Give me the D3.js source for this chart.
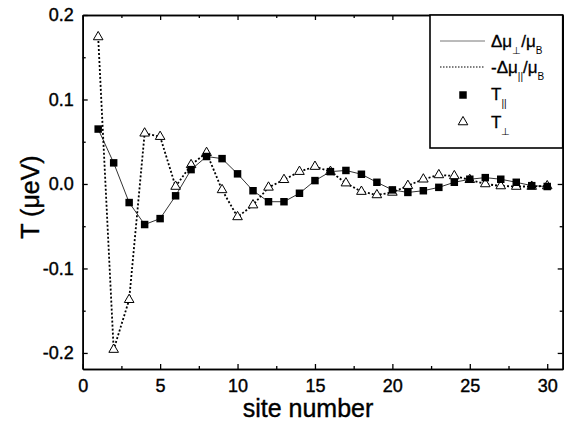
<!DOCTYPE html>
<html>
<head>
<meta charset="utf-8">
<script src="https://cdn.jsdelivr.net/npm/d3@7"></script>
<style>
  body { margin: 0; background: #fff; }
  svg text { font-family: "Liberation Sans", Arial, sans-serif; fill: #000; }
</style>
</head>
<body>
<div id="chart"></div>
<script>
// site index along the chain
var sites = [1, 2, 3, 4, 5, 6, 7, 8, 9, 10, 11, 12, 13, 14, 15,
             16, 17, 18, 19, 20, 21, 22, 23, 24, 25, 26, 27, 28, 29, 30];

// T parallel (filled squares, solid line)
var tPar = [0.065, 0.025, -0.022, -0.048, -0.041, -0.014, 0.017, 0.0325, 0.030, 0.012,
            -0.008, -0.021, -0.021, -0.011, 0.004, 0.0146, 0.016, 0.0115, 0.002, -0.007,
            -0.010, -0.008, -0.004, 0.002, 0.0056, 0.0075, 0.0056, 0.002, -0.002, -0.003];

// T perpendicular (open triangles, dotted line)
var tPerp = [0.174, -0.196, -0.137, 0.060, 0.056, -0.003, 0.0226, 0.037, -0.007, -0.039,
             -0.025, -0.004, 0.005, 0.0146, 0.0206, 0.0146, 0.001, -0.009, -0.013, -0.010,
             -0.002, 0.0056, 0.0107, 0.0095, 0.005, 0.0, -0.0024, -0.003, -0.003, -0.0024];

var xTicks = [0, 5, 10, 15, 20, 25, 30];
var xMinor = [2.5, 7.5, 12.5, 17.5, 22.5, 27.5];
var yTicks = [-0.2, -0.1, 0.0, 0.1, 0.2];
var yMinor = [-0.15, -0.05, 0.05, 0.15];

var width = 571, height = 424;
var margin = {left: 82.7, right: 562.7, top: 15, bottom: 369};

var svg = d3.select('#chart').append('svg')
    .attr('width', width)
    .attr('height', height);

var x = d3.scaleLinear().domain([0, 31]).range([margin.left, margin.right]);
var y = d3.scaleLinear().domain([-0.219, 0.2]).range([margin.bottom, margin.top]);

// plain hyphen for the minus sign, like the original
var fmtY = function (d) { return d3.format('.1f')(d).replace('\u2212', '-'); };

// bottom axis, ticks pointing in
svg.append('g')
    .attr('transform', 'translate(0,' + margin.bottom + ')')
    .call(d3.axisBottom(x).tickValues(xTicks).tickSizeInner(-5).tickSizeOuter(0).tickPadding(10));
svg.append('g')
    .attr('transform', 'translate(0,' + margin.bottom + ')')
    .call(d3.axisBottom(x).tickValues(xMinor).tickFormat('').tickSizeInner(-3).tickSizeOuter(0));

// top axis
svg.append('g')
    .attr('transform', 'translate(0,' + margin.top + ')')
    .call(d3.axisTop(x).tickValues(xTicks).tickFormat('').tickSizeInner(-5).tickSizeOuter(0));
svg.append('g')
    .attr('transform', 'translate(0,' + margin.top + ')')
    .call(d3.axisTop(x).tickValues(xMinor).tickFormat('').tickSizeInner(-3).tickSizeOuter(0));

// left axis
svg.append('g')
    .attr('transform', 'translate(' + margin.left + ',0)')
    .call(d3.axisLeft(y).tickValues(yTicks).tickFormat(fmtY).tickSizeInner(-5).tickSizeOuter(0).tickPadding(9));
svg.append('g')
    .attr('transform', 'translate(' + margin.left + ',0)')
    .call(d3.axisLeft(y).tickValues(yMinor).tickFormat('').tickSizeInner(-3).tickSizeOuter(0));

// right axis
svg.append('g')
    .attr('transform', 'translate(' + margin.right + ',0)')
    .call(d3.axisRight(y).tickValues(yTicks).tickFormat('').tickSizeInner(-5).tickSizeOuter(0));
svg.append('g')
    .attr('transform', 'translate(' + margin.right + ',0)')
    .call(d3.axisRight(y).tickValues(yMinor).tickFormat('').tickSizeInner(-3).tickSizeOuter(0));

svg.selectAll('.domain').attr('stroke-width', 1.6);
svg.selectAll('.tick line').attr('stroke-width', 1.3);
svg.selectAll('.tick text')
    .style('font-size', '18px')
    .attr('fill', '#000')
    .attr('stroke', '#000')
    .attr('stroke-width', 0.4);

// lines
var lineGen = function (vals) {
    return d3.line()
        .x(function (d, i) { return x(sites[i]); })
        .y(function (d) { return y(d); })(vals);
};

svg.append('path')
    .attr('d', lineGen(tPar))
    .attr('fill', 'none')
    .attr('stroke', '#333')
    .attr('stroke-width', 1);

svg.append('path')
    .attr('d', lineGen(tPerp))
    .attr('fill', 'none')
    .attr('stroke', '#000')
    .attr('stroke-width', 1.8)
    .attr('stroke-dasharray', '2,2');

// points
var tri = d3.symbol().type(d3.symbolTriangle).size(40);
var sq = d3.symbol().type(d3.symbolSquare).size(56);

svg.append('g').selectAll('path')
    .data(tPerp)
    .enter().append('path')
    .attr('d', tri)
    .attr('transform', function (d, i) { return 'translate(' + x(sites[i]) + ',' + y(d) + ')'; })
    .attr('fill', '#fff')
    .attr('stroke', '#000')
    .attr('stroke-width', 1);

svg.append('g').selectAll('path')
    .data(tPar)
    .enter().append('path')
    .attr('d', sq)
    .attr('transform', function (d, i) { return 'translate(' + x(sites[i]) + ',' + y(d) + ')'; })
    .attr('fill', '#000');

// axis titles
svg.append('text')
    .attr('x', 308)
    .attr('y', 417)
    .attr('text-anchor', 'middle')
    .style('font-size', '25px')
    .attr('stroke', '#000').attr('stroke-width', 0.4)
    .text('site number');

svg.append('text')
    .attr('transform', 'translate(39,197) rotate(-90)')
    .attr('text-anchor', 'middle')
    .style('font-size', '25px')
    .attr('stroke', '#000').attr('stroke-width', 0.4)
    .text('T (\u03BCeV)');

// legend
var lg = svg.append('g');
lg.append('rect')
    .attr('x', 430).attr('y', margin.top)
    .attr('width', margin.right - 430).attr('height', 148 - margin.top)
    .attr('fill', '#fff')
    .attr('stroke', '#000')
    .attr('stroke-width', 1.6);

lg.append('line')
    .attr('x1', 440).attr('x2', 485).attr('y1', 41).attr('y2', 41)
    .attr('stroke', '#777').attr('stroke-width', 1);
lg.append('line')
    .attr('x1', 440).attr('x2', 485).attr('y1', 67).attr('y2', 67)
    .attr('stroke', '#000').attr('stroke-width', 1.2)
    .attr('stroke-dasharray', '1.5,1.5');
lg.append('path')
    .attr('d', sq)
    .attr('transform', 'translate(463,95)')
    .attr('fill', '#000');
lg.append('path')
    .attr('d', tri)
    .attr('transform', 'translate(463,122)')
    .attr('fill', '#fff').attr('stroke', '#000');

function legendText(yPos, parts) {
    var t = lg.append('text')
        .attr('x', 491).attr('y', yPos)
        .style('font-size', '17px')
        .attr('stroke', '#000').attr('stroke-width', 0.3);
    parts.forEach(function (p) {
        var ts = t.append('tspan').text(p[0]).attr('fill', '#000');
        if (p[1]) {
            ts.style('font-size', '10px').attr('dy', 7).attr('stroke-width', 0);
        } else if (p[2]) {
            ts.attr('dy', -7);
        }
    });
}

legendText(47, [['\u0394\u03BC'], ['\u22A5', true], ['/\u03BC', false, true], ['B', true]]);
legendText(73, [['-\u0394\u03BC'], ['||', true], ['/\u03BC', false, true], ['B', true]]);
legendText(100, [['T'], ['||', true]]);
legendText(128, [['T'], ['\u22A5', true]]);
</script>
</body>
</html>
